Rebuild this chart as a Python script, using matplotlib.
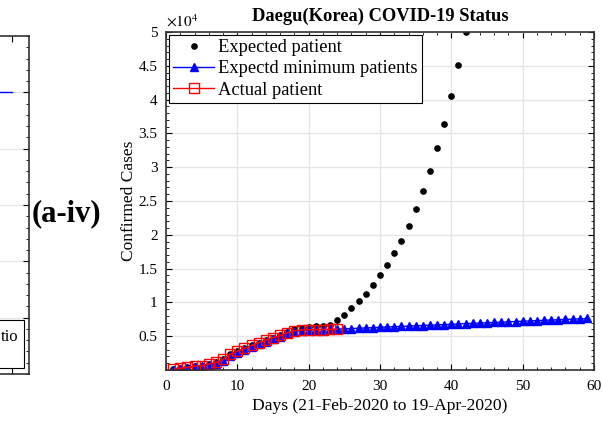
import matplotlib.pyplot as plt
import numpy as np
from matplotlib.ticker import MultipleLocator, FixedLocator

plt.rcParams['font.family'] = ['Liberation Serif', 'DejaVu Serif']
plt.rcParams['mathtext.fontset'] = 'stix'

# --- data ---
expected_days = list(range(1, 43))
expected_cases = [100, 250, 400, 590, 650, 890, 1130, 1580, 2370, 2810,
                  3200, 3650, 4040, 4440, 4780, 5130, 5560, 6000, 6260, 6350,
                  6450, 6550, 6660, 7400, 8140, 9170, 10200, 11240, 12530, 14000,
                  15480, 17260, 19130, 21350, 23800, 26500, 29400, 32800, 36400, 40500,
                  45100, 50000]

minimum_days = list(range(1, 60))
minimum_cases = [60, 200, 330, 500, 560, 760, 950, 1350, 2100, 2550,
                 2950, 3400, 3800, 4200, 4560, 4950, 5400, 5680, 5830, 5910,
                 5960, 5990, 6010, 6040, 6090, 6130, 6180, 6220, 6270, 6310,
                 6360, 6400, 6450, 6490, 6540, 6580, 6630, 6670, 6720, 6760,
                 6810, 6850, 6900, 6940, 6990, 7030, 7080, 7120, 7170, 7210,
                 7260, 7300, 7350, 7390, 7440, 7480, 7530, 7570, 7620]

actual_days = list(range(1, 25))
actual_cases = [100, 250, 400, 590, 650, 890, 1130, 1580, 2370, 2810,
                3200, 3650, 4040, 4440, 4780, 5130, 5520, 5810, 5920, 5950,
                5970, 5990, 6000, 6020]

ytick_vals = [5000, 10000, 15000, 20000, 25000, 30000, 35000, 40000, 45000, 50000]
ytick_labels = ['0.5', '1', '1.5', '2', '2.5', '3', '3.5', '4', '4.5', '5']

fig = plt.figure(figsize=(6.02, 4.26), dpi=100)

# --- cut-off neighbour panel on the left ---
ax0 = fig.add_axes([-0.6, 1 - 374 / 426, 0.6 + 29 / 602, 338 / 426])
ax0.set_xlim(0, 10)
ax0.set_ylim(0, 6)
ax0.yaxis.tick_right()
ax0.set_yticks([1, 2, 3, 4, 5])
ax0.yaxis.set_minor_locator(MultipleLocator(0.2))
ax0.set_yticklabels([])
ax0.set_xticks([9.56])
ax0.set_xticklabels([])
ax0.tick_params(which='both', direction='in', right=True, top=True, length=4)
ax0.tick_params(which='minor', length=2)
ax0.grid(True, axis='y', color='#e6e6e6', linewidth=1)
ax0.plot([8.5, 9.56], [5, 5], color='blue', linewidth=1)
for s in ax0.spines.values():
    s.set_linewidth(1.2)
    s.set_color('#333333')
ax0.add_patch(plt.Rectangle((6.0, 0.1), 3.87, 0.85, fill=True, facecolor='white',
                            edgecolor='black', linewidth=0.8))
ax0.text(9.74, 0.66, 'tio', ha='right', va='center', fontsize=12)

fig.text(32 / 602, 1 - 214 / 426, '(a-iv)', fontsize=22, fontweight='bold',
         ha='left', va='center')

# --- main panel ---
ax = fig.add_axes([166 / 602, 1 - 370 / 426, 428 / 602, 338 / 426])

ax.plot(expected_days, expected_cases, linestyle='none', marker='o', color='black',
        markersize=3.8, label='Expected patient')
ax.plot(minimum_days, minimum_cases, color='blue', marker='^', markersize=6,
        linewidth=1, markerfacecolor='blue', label='Expectd minimum patients')
ax.plot(actual_days, actual_cases, color='red', marker='s', markersize=6.5,
        linewidth=1, markerfacecolor='none', markeredgewidth=1,
        label='Actual patient')

ax.set_xlim(0, 60)
ax.set_ylim(0, 50000)
ax.set_xticks([0, 10, 20, 30, 40, 50, 60])
ax.xaxis.set_minor_locator(MultipleLocator(2))
ax.yaxis.set_major_locator(FixedLocator(ytick_vals))
ax.set_yticklabels(ytick_labels)
ax.yaxis.set_minor_locator(MultipleLocator(1000))
ax.tick_params(which='both', direction='in', top=True, right=True, labelsize=11)
ax.tick_params(which='major', length=4)
ax.tick_params(which='minor', length=2)
ax.tick_params(axis='x', which='major', pad=7)
ax.tick_params(axis='y', which='major', pad=6)
ax.grid(True, which='major', color='#e6e6e6', linewidth=1)
ax.set_axisbelow(True)
for s in ax.spines.values():
    s.set_linewidth(1.2)
    s.set_color('#333333')

ax.set_title('Daegu(Korea) COVID-19 Status', fontsize=13.3, fontweight='bold', pad=8)
ax.set_xlabel('Days (21-Feb-2020 to 19-Apr-2020)', fontsize=12.6, labelpad=4)
ax.set_ylabel('Confirmed Cases', fontsize=12.5, labelpad=1)
ax.text(0.0, 1.008, r'$\times 10^4$', transform=ax.transAxes, fontsize=11,
        ha='left', va='bottom')

leg = ax.legend(loc='upper left', fontsize=13.3, frameon=True, fancybox=False,
                borderpad=0.25, labelspacing=0.22, handlelength=2.2,
                handletextpad=0.2, borderaxespad=0.15)
leg.get_frame().set_edgecolor('black')
leg.get_frame().set_linewidth(0.8)
leg.get_frame().set_alpha(1)

fig.savefig('out.png', dpi=100)
